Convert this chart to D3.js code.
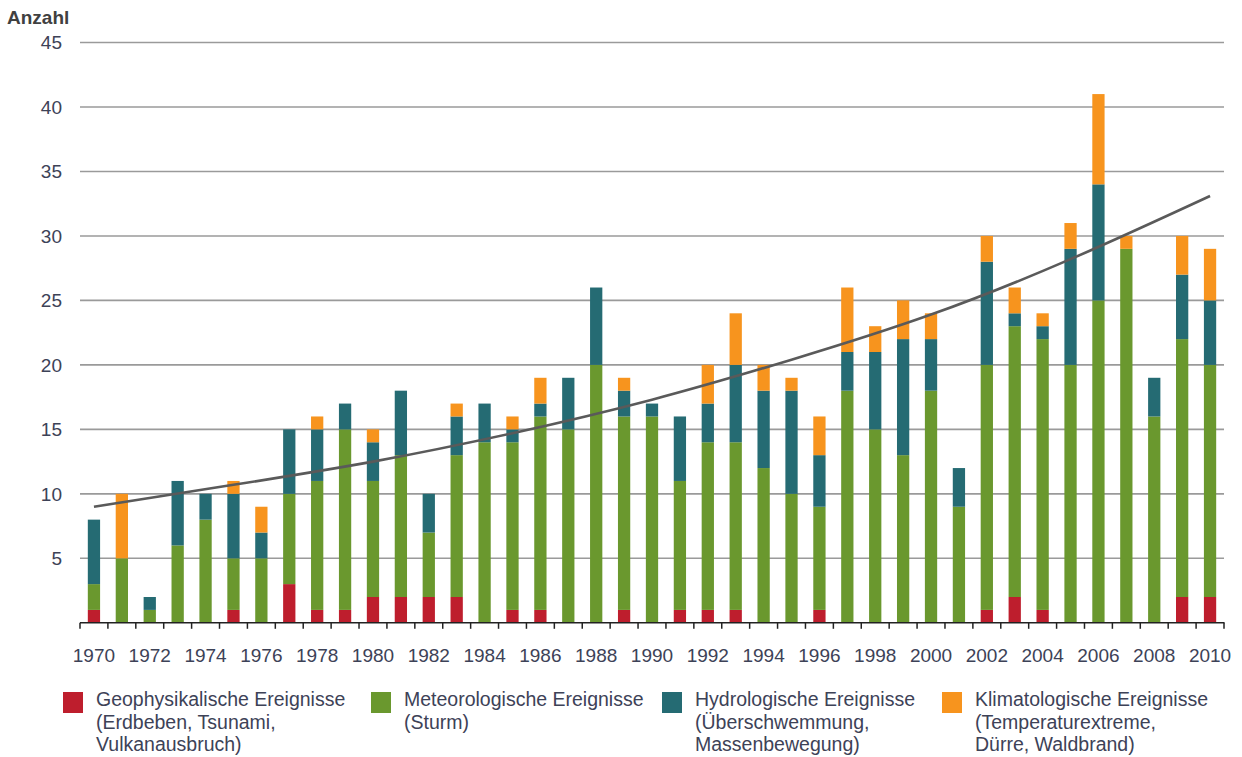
<!DOCTYPE html>
<html><head><meta charset="utf-8">
<script src="https://cdn.jsdelivr.net/npm/d3@7"></script>
<style>body{margin:0;background:#fff;}svg{display:block;}</style>
</head><body>
<svg id="c" width="1242" height="757"></svg>
<script>
const years = [1970,1971,1972,1973,1974,1975,1976,1977,1978,1979,1980,1981,1982,1983,1984,1985,1986,1987,1988,1989,1990,1991,1992,1993,1994,1995,1996,1997,1998,1999,2000,2001,2002,2003,2004,2005,2006,2007,2008,2009,2010];
const geo = [1,0,0,0,0,1,0,3,1,1,2,2,2,2,0,1,1,0,0,1,0,1,1,1,0,0,1,0,0,0,0,0,1,2,1,0,0,0,0,2,2];
const met = [2,5,1,6,8,4,5,7,10,14,9,11,5,11,14,13,15,15,20,15,16,10,13,13,12,10,8,18,15,13,18,9,19,21,21,20,25,29,16,20,18];
const hyd = [5,0,1,5,2,5,2,5,4,2,3,5,3,3,3,1,1,4,6,2,1,5,3,6,6,8,4,3,6,9,4,3,8,1,1,9,9,0,3,5,5];
const kli = [0,5,0,0,0,1,2,0,1,0,1,0,0,1,0,1,2,0,0,1,0,0,3,4,2,1,3,5,2,3,2,0,2,2,1,2,7,1,0,3,4];
const trendYears = [1970,1975,1980,1985,1990,1995,2000,2005,2010];
const trendValues = [9.0,10.7,12.5,14.7,17.3,20.4,23.9,28.2,33.1];
const yTicks = [5,10,15,20,25,30,35,40,45];
const xLabelYears = years.filter((y,i)=>i%2===0);
const seriesKeys = ["geo","met","hyd","kli"];
const seriesColors = ["#be1e2d","#6a982e","#256b73","#f7941e"];
const legendLines = [
  ["Geophysikalische Ereignisse","(Erdbeben, Tsunami,","Vulkanausbruch)"],
  ["Meteorologische Ereignisse","(Sturm)"],
  ["Hydrologische Ereignisse","(Überschwemmung,","Massenbewegung)"],
  ["Klimatologische Ereignisse","(Temperaturextreme,","Dürre, Waldbrand)"]
];
const legendX = [63, 371, 662, 942];

const rows = years.map((y,i)=>({year:y, geo:geo[i], met:met[i], hyd:hyd[i], kli:kli[i]}));
const svg = d3.select("#c");
const font = "'Liberation Sans', Arial, sans-serif";
const textColor = "#3d4257";

const x = d3.scaleBand().domain(years).range([80,1224]).paddingInner(0.56).paddingOuter(0.28);
const y = d3.scaleLinear().domain([0,45]).range([622.8,42.5]);

// gridlines
svg.append("g").selectAll("line").data(yTicks).join("line")
  .attr("x1",80).attr("x2",1224)
  .attr("y1",d=>y(d)).attr("y2",d=>y(d))
  .attr("stroke","#9a9a9a").attr("stroke-width",1.6);

// y labels
svg.append("g").selectAll("text").data(yTicks).join("text")
  .attr("x",62).attr("y",d=>y(d)).attr("dy","0.36em")
  .attr("text-anchor","end").attr("font-family",font).attr("font-size",19)
  .attr("fill",textColor).text(d=>d);

svg.append("text").attr("x",7).attr("y",24).attr("font-family",font)
  .attr("font-size",19).attr("font-weight","bold").attr("fill","#404040").text("Anzahl");

// bars
const stack = d3.stack().keys(seriesKeys)(rows);
svg.append("g").selectAll("g").data(stack).join("g")
  .attr("fill",(d,i)=>seriesColors[i])
  .selectAll("rect").data(d=>d).join("rect")
  .attr("x",d=>x(d.data.year)).attr("width",x.bandwidth())
  .attr("y",d=>y(d[1])).attr("height",d=>y(d[0])-y(d[1]));

// axis
const step = x.step();
const axisG = svg.append("g");
axisG.append("line").attr("x1",80).attr("x2",1224.5).attr("y1",y(0)).attr("y2",y(0))
  .attr("stroke","#222").attr("stroke-width",1.6);
const tickPos = years.map(yr=>x(yr) - (step - x.bandwidth())/2).concat([1224]);
axisG.selectAll("line.t").data(tickPos).join("line").attr("class","t")
  .attr("x1",d=>d).attr("x2",d=>d).attr("y1",y(0)).attr("y2",y(0)+6)
  .attr("stroke","#222").attr("stroke-width",1.5);
axisG.selectAll("text").data(xLabelYears).join("text")
  .attr("x",d=>x(d)+x.bandwidth()/2).attr("y",662)
  .attr("text-anchor","middle").attr("font-family",font).attr("font-size",19)
  .attr("fill",textColor).text(d=>d);

// trend line
const xc = yr => x(yr)+x.bandwidth()/2;
const line = d3.line().x((d,i)=>xc(trendYears[i])).y(d=>y(d)).curve(d3.curveNatural);
svg.append("path").attr("d",line(trendValues)).attr("fill","none")
  .attr("stroke","#5a5a5a").attr("stroke-width",2.6);

// legend
const lg = svg.append("g");
legendLines.forEach((lines,i)=>{
  lg.append("rect").attr("x",legendX[i]).attr("y",692).attr("width",20).attr("height",21)
    .attr("fill",seriesColors[i]);
  const t = lg.append("text").attr("font-family",font).attr("font-size",19.5).attr("fill",textColor);
  lines.forEach((s,j)=>{
    t.append("tspan").attr("x",legendX[i]+33).attr("y",706+j*22.5).text(s);
  });
});
</script>
</body></html>
